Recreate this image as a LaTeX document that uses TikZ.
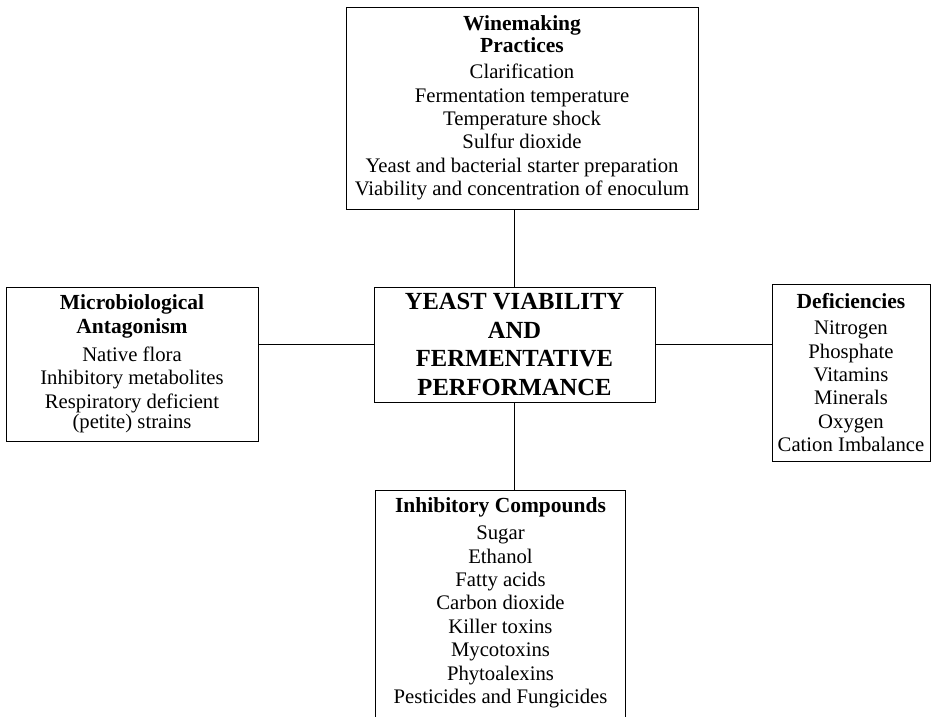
\documentclass[tikz,border=0pt]{standalone}
\usepackage{fontspec}
\setmainfont{Liberation Serif}
\usetikzlibrary{positioning}
\newcommand{\hdtext}[1]{{\bfseries\fontsize{21.5}{20}\selectfont #1}}

\begin{document}
\begin{tikzpicture}[x=1pt,y=-1pt,
  box/.style={draw,line width=0.9pt,inner sep=0pt,align=center,font=\fontsize{20.7}{23.4}\selectfont},
  link/.style={line width=1.8pt}]
\useasboundingbox (0,0) rectangle (934,716);
% boxes
\node[box,minimum width=352pt,minimum height=202pt] (wine) at (522,108)
  {\hdtext{Winemaking}\\[-2pt]\hdtext{Practices}\\[3pt]Clarification\\Fermentation temperature\\Temperature shock\\Sulfur dioxide\\Yeast and bacterial starter preparation\\Viability and concentration of enoculum};
\node[box,minimum width=252pt,minimum height=154pt] (micro) at (132,364)
  {\hdtext{Microbiological}\\\hdtext{Antagonism}\\[5pt]Native flora\\Inhibitory metabolites\\Respiratory deficient\\[-3pt](petite) strains};
\node[box,minimum width=281pt,minimum height=115pt,font=\bfseries\fontsize{24.6}{28.5}\selectfont] (core) at (514.5,344.5)
  {YEAST VIABILITY\\AND\\FERMENTATIVE\\PERFORMANCE};
\node[box,minimum width=158pt,minimum height=177pt] (defic) at (851,372.5)
  {\hdtext{Deficiencies}\\[3pt]Nitrogen\\Phosphate\\Vitamins\\Minerals\\Oxygen\\Cation Imbalance};
\node[box,draw=none,anchor=north,minimum width=249pt,inner ysep=7pt] (inhib) at (500.5,490)
  {\hdtext{Inhibitory Compounds}\\[4pt]Sugar\\Ethanol\\Fatty acids\\Carbon dioxide\\Killer toxins\\Mycotoxins\\Phytoalexins\\Pesticides and Fungicides};
\draw[line width=0.9pt] (inhib.north west) rectangle ([yshift=-30pt]inhib.south east);
% connectors
\draw[link] (core.north) -- (core.north |- wine.south);
\draw[link] (core.south) -- (core.south |- inhib.north);
\draw[link] (core.west) -- (core.west -| micro.east);
\draw[link] (core.east) -- (core.east -| defic.west);
\end{tikzpicture}
\end{document}
